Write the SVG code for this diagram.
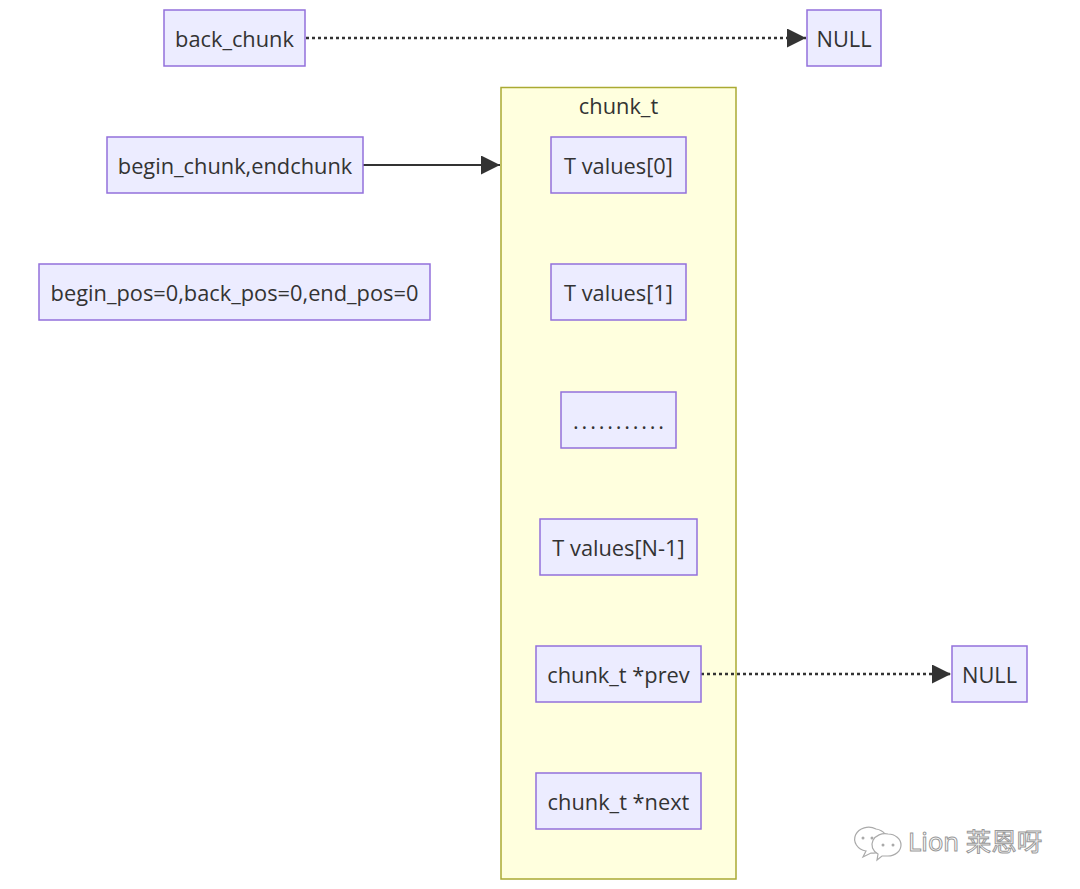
<svg xmlns="http://www.w3.org/2000/svg" width="1080" height="889" viewBox="0 0 1080 889">
<style>
.node rect{fill:#ECECFF;stroke:#9370DB;stroke-width:1.5}
.node text,.cl text{font-family:"Open Sans","DejaVu Sans",sans-serif;font-size:21.8px;fill:#333;text-anchor:middle;dominant-baseline:central}
.edge{stroke:#333;stroke-width:2;fill:none}
.dot{stroke-width:2.6;stroke-dasharray:3 3}
.wm{font-family:"Noto Sans","Noto Sans CJK SC",sans-serif;font-size:25.5px;fill:#fff;stroke:#999;stroke-width:1}
</style>
<defs>
<marker id="ah2" viewBox="0 0 10 10" refX="10" refY="5" markerWidth="19" markerHeight="19" markerUnits="userSpaceOnUse" orient="auto">
<path d="M0,0 L10,5 L0,10 z" fill="#333"/>
</marker>
</defs>
<rect width="1080" height="889" fill="#fff"/>
<g id="cluster-chunk_t" class="cl">
<rect x="501" y="87.5" width="235" height="791.5" fill="#ffffde" stroke="#aaaa33" stroke-width="1.5"/>
<text x="618.5" y="105">chunk_t</text>
</g>
<g id="connectors">
<path class="edge dot" d="M306,38 L806,38" marker-end="url(#ah2)"/>
<path class="edge" d="M363,165 L500,165" marker-end="url(#ah2)"/>
<path class="edge dot" d="M701,674 L951,674" marker-end="url(#ah2)"/>
</g>
<g id="back_chunk" class="node"><rect x="164" y="10" width="141" height="56"/><text x="234.5" y="38">back_chunk</text></g>
<g id="null1" class="node"><rect x="807" y="10" width="74" height="56"/><text x="844" y="38">NULL</text></g>
<g id="begin_chunk" class="node"><rect x="107" y="137" width="256" height="56"/><text x="235" y="165">begin_chunk,endchunk</text></g>
<g id="begin_pos" class="node"><rect x="39" y="264" width="391" height="56"/><text x="234.5" y="292">begin_pos=0,back_pos=0,end_pos=0</text></g>
<g id="v0" class="node"><rect x="551" y="137" width="135" height="56"/><text x="618.5" y="165">T values[0]</text></g>
<g id="v1" class="node"><rect x="551" y="264" width="135" height="56"/><text x="618.5" y="292">T values[1]</text></g>
<g id="dots" class="node"><rect x="561" y="392" width="115" height="56"/><text x="620" y="420" letter-spacing="2.8">...........</text></g>
<g id="vn" class="node"><rect x="540" y="519" width="157" height="56"/><text x="618.5" y="547">T values[N-1]</text></g>
<g id="prev" class="node"><rect x="536" y="646" width="165" height="56"/><text x="618.5" y="674">chunk_t *prev</text></g>
<g id="null2" class="node"><rect x="952" y="646" width="75" height="56"/><text x="989.5" y="674">NULL</text></g>
<g id="next" class="node"><rect x="536" y="773" width="165" height="56"/><text x="618.5" y="801">chunk_t *next</text></g>
<g id="watermark">
<path d="M876,829 a14,12 0 1 0 -10,22 l-3,6 l8,-4 a14,12 0 0 0 5,-24z" fill="#fff" stroke="#aaa" stroke-width="1.2"/>
<circle cx="863" cy="838" r="1.5" fill="#aaa"/><circle cx="872" cy="838" r="1.5" fill="#aaa"/>
<path d="M888,834 a13,11 0 1 1 0,22 l-6,0 l-5,4 l1,-6 a13,11 0 0 1 10,-20z" fill="#fff" stroke="#aaa" stroke-width="1.2"/>
<circle cx="883" cy="845" r="1.5" fill="#aaa"/><circle cx="893" cy="845" r="1.5" fill="#aaa"/>
<text class="wm" x="908" y="851">Lion 莱恩呀</text>
</g>
</svg>
